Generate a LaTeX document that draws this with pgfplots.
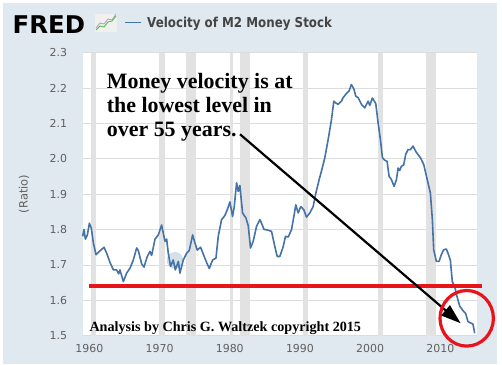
\documentclass[border=0pt]{standalone}
\usepackage{pgfplots}
\pgfplotsset{compat=1.18}
\usepackage{fontspec}
\setmainfont{DejaVu Sans}
\newfontfamily\dvs{DejaVu Sans}
\newfontfamily\hdr[FakeStretch=0.87]{DejaVu Sans}
\newfontfamily\tnr{Liberation Serif}
\usetikzlibrary{arrows.meta}
\definecolor{bgc}{HTML}{E1E9F0}
\definecolor{fredblue}{HTML}{4572A7}
\definecolor{tickgray}{HTML}{5F5F5F}
\definecolor{headgray}{HTML}{444444}
\definecolor{gridc}{HTML}{DCDCDC}
\definecolor{recess}{HTML}{E2E2E2}
\definecolor{annred}{HTML}{E8141C}

\pgfplotstableread{
year v
1959.05 1.781
1959.24 1.800
1959.43 1.773
1959.72 1.785
1960.00 1.818
1960.28 1.804
1960.57 1.762
1960.95 1.729
1961.52 1.740
1962.09 1.750
1962.47 1.733
1962.94 1.707
1963.42 1.686
1963.89 1.686
1964.17 1.675
1964.36 1.686
1964.84 1.653
1965.31 1.677
1965.79 1.691
1966.26 1.714
1966.74 1.748
1966.97 1.741
1967.45 1.703
1967.78 1.694
1968.25 1.724
1968.63 1.738
1968.87 1.727
1969.35 1.773
1969.82 1.785
1970.29 1.813
1970.77 1.767
1971.01 1.773
1971.24 1.733
1971.57 1.696
1971.95 1.714
1972.24 1.686
1972.67 1.710
1972.90 1.677
1973.38 1.714
1973.85 1.733
1974.23 1.741
1974.71 1.785
1975.04 1.762
1975.37 1.742
1975.84 1.750
1976.22 1.731
1976.70 1.707
1977.08 1.690
1977.55 1.714
1978.03 1.719
1978.36 1.781
1978.83 1.828
1979.31 1.840
1979.64 1.856
1980.02 1.878
1980.40 1.837
1980.64 1.865
1980.97 1.932
1981.21 1.908
1981.44 1.925
1981.82 1.847
1982.30 1.833
1982.63 1.811
1982.96 1.748
1983.34 1.767
1983.81 1.809
1984.29 1.828
1984.53 1.818
1984.86 1.801
1985.47 1.798
1985.95 1.795
1986.42 1.752
1986.76 1.724
1987.13 1.724
1987.61 1.752
1987.94 1.781
1988.32 1.779
1988.80 1.800
1989.13 1.837
1989.41 1.870
1989.74 1.847
1990.12 1.865
1990.55 1.856
1990.93 1.835
1991.40 1.847
1991.88 1.865
1992.26 1.903
1992.73 1.941
1993.11 1.969
1993.54 2.003
1994.01 2.054
1994.49 2.111
1994.82 2.163
1995.10 2.158
1995.44 2.154
1995.91 2.163
1996.15 2.173
1996.72 2.187
1997.00 2.192
1997.33 2.210
1997.67 2.198
1997.95 2.177
1998.28 2.173
1998.76 2.154
1999.23 2.144
1999.71 2.163
1999.94 2.151
2000.32 2.172
2000.80 2.156
2001.13 2.102
2001.46 2.054
2001.75 2.003
2002.08 1.996
2002.41 1.993
2002.69 1.951
2003.03 1.941
2003.41 1.922
2003.74 1.941
2003.98 1.974
2004.21 1.967
2004.45 1.979
2004.78 1.983
2005.07 2.013
2005.40 2.026
2005.73 2.026
2006.11 2.036
2006.49 2.021
2006.82 2.012
2007.16 2.003
2007.63 1.984
2007.91 1.960
2008.24 1.932
2008.58 1.903
2008.86 1.828
2009.05 1.743
2009.43 1.710
2009.81 1.710
2010.14 1.729
2010.47 1.743
2010.85 1.745
2011.09 1.733
2011.42 1.714
2011.70 1.653
2012.04 1.639
2012.37 1.611
2012.75 1.584
2013.22 1.571
2013.60 1.563
2013.93 1.540
2014.31 1.536
2014.64 1.533
2014.89 1.507
}\velocity

\begin{document}
\begin{tikzpicture}[x=1bp,y=1bp]
\fill[white] (0,0) rectangle (502,364);
\fill[bgc] (3,0) rectangle (497,361);
% header
\node[anchor=base west, inner sep=0, text=black, font=\dvs\bfseries\fontsize{24.5}{24.5}\selectfont] at (12.5,330.5) {FRED};
\fill[gray!12] (95,332) rectangle (117,350);
\draw[green!45!gray, line width=0.8] (96,334) -- (100,338) -- (104,337) -- (108,342) -- (112,343) -- (116,348);
\draw[gray!70, line width=0.8] (96,336) -- (100,341) -- (104,340) -- (108,345) -- (112,344) -- (116,350);
\draw[fredblue, line width=1.6] (125,341.5) -- (141,341.5);
\node[anchor=base west, inner sep=0, text=headgray, font=\hdr\bfseries\fontsize{13.7}{13.7}\selectfont] at (147,336.7) {Velocity of M2 Money Stock};
% ratio label
\node[rotate=90, text=tickgray, font=\dvs\fontsize{11.5}{11.5}\selectfont] at (24,170) {(Ratio)};
\begin{axis}[
  at={(82.7bp,28.3bp)}, anchor=south west,
  scale only axis, width=394.3bp, height=283bp,
  xmin=1959.05, xmax=2015.22, ymin=1.5, ymax=2.3,
  clip=false,
  axis background/.style={fill=white},
  axis line style={draw=none},
  major tick length=0pt,
  xtick={1960,1970,1980,1990,2000,2010},
  ytick={1.5,1.6,1.7,1.8,1.9,2.0,2.1,2.2,2.3},
  ymajorgrids, grid style={gridc, line width=0.8bp},
  /pgf/number format/assume math mode=true,
  ticklabel style={font=\dvs\fontsize{11}{11}\selectfont, text=tickgray},
  xticklabel style={/pgf/number format/1000 sep={}, anchor=north, inner sep=0pt, yshift=-8bp},
  yticklabel style={/pgf/number format/fixed, /pgf/number format/fixed zerofill, /pgf/number format/precision=1, anchor=east, inner sep=0pt, xshift=-15.5bp},
]
\fill[recess] (axis cs:1960.25,1.5) rectangle (axis cs:1961.0,2.3);
\fill[recess] (axis cs:1969.92,1.5) rectangle (axis cs:1970.83,2.3);
\fill[recess] (axis cs:1973.83,1.5) rectangle (axis cs:1975.17,2.3);
\fill[recess] (axis cs:1980.0,1.5) rectangle (axis cs:1980.5,2.3);
\fill[recess] (axis cs:1981.5,1.5) rectangle (axis cs:1982.83,2.3);
\fill[recess] (axis cs:1990.5,1.5) rectangle (axis cs:1991.17,2.3);
\fill[recess] (axis cs:2001.17,1.5) rectangle (axis cs:2001.83,2.3);
\fill[recess] (axis cs:2007.92,1.5) rectangle (axis cs:2009.42,2.3);
\addplot[only marks, mark=*, mark size=8bp, fredblue, opacity=0.22] coordinates {(1972.2,1.713)};
\addplot[fredblue, line width=1.6bp, line join=round] table[x=year, y=v] {\velocity};
\addplot[annred, line width=4bp] coordinates {(1960.0,1.64) (2015.98,1.64)};
\end{axis}
% annotations
\node[anchor=base west, inner sep=0, align=left, font=\tnr\bfseries\fontsize{22}{24.2}\selectfont] at (106.7,227.3) {Money velocity is at\\the lowest level in\\over 55 years.};
\node[anchor=base west, inner sep=0, font=\tnr\bfseries\fontsize{14.2}{14.2}\selectfont] at (89.3,33) {Analysis by Chris G. Waltzek copyright 2015};
\draw[-{Triangle[length=20bp,width=13bp]}, line width=2.2bp] (240,229.7) -- (460.7,40.7);
\draw[annred, line width=3.2bp] (466.7,45.7) ellipse [x radius=26.7, y radius=27.8];
\end{tikzpicture}
\end{document}
